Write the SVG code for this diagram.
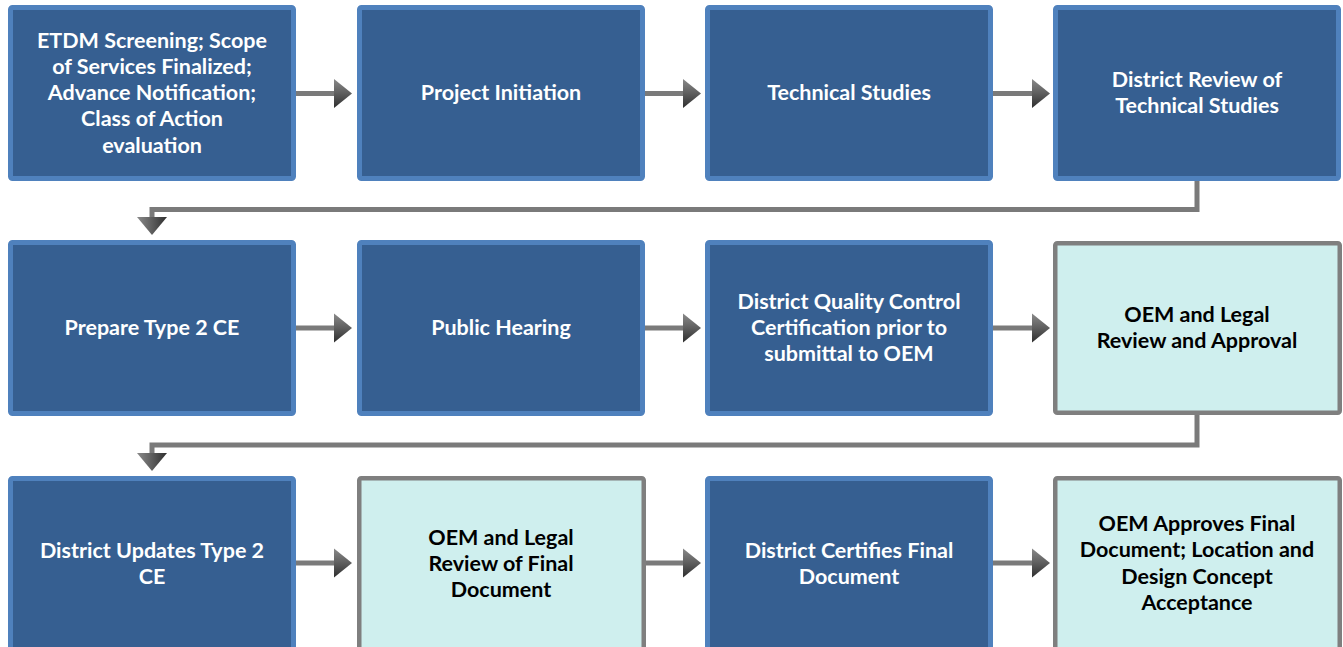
<svg xmlns="http://www.w3.org/2000/svg" width="1343" height="647" viewBox="0 0 1343 647">
<defs>
<linearGradient id="hg" x1="0" y1="0" x2="0" y2="1">
<stop offset="0" stop-color="#8a8a8a"/>
<stop offset="0.5" stop-color="#5e5e5e"/>
<stop offset="1" stop-color="#2e2e2e"/>
</linearGradient>
<linearGradient id="vg" x1="0" y1="0" x2="1" y2="0">
<stop offset="0" stop-color="#8a8a8a"/>
<stop offset="0.5" stop-color="#5e5e5e"/>
<stop offset="1" stop-color="#2e2e2e"/>
</linearGradient>
<style>
.b{fill:#365F91;stroke:#4F81BD;stroke-width:5}
.l{fill:#CFEFEE;stroke:#7F7F7F;stroke-width:4.5}
.tw{fill:#FFFFFF;font-family:Lato,"Open Sans",sans-serif;font-weight:bold;font-size:21.5px;text-anchor:middle}
.tk{fill:#000000;font-family:Lato,"Open Sans",sans-serif;font-weight:bold;font-size:21.5px;text-anchor:middle}
.sh{fill:none;stroke:#7A7A7A;stroke-width:5}
.ha{fill:url(#hg)}
.va{fill:url(#vg)}
</style>
</defs>
<g id="connectors">
<line class="sh" x1="296" y1="93.5" x2="336" y2="93.5"/>
<polygon class="ha" points="334,79 352,93.5 334,108"/>
<line class="sh" x1="644" y1="93.5" x2="685" y2="93.5"/>
<polygon class="ha" points="683,79 701,93.5 683,108"/>
<line class="sh" x1="993" y1="93.5" x2="1034" y2="93.5"/>
<polygon class="ha" points="1032,79 1050,93.5 1032,108"/>
<path class="sh" d="M1197,180 V209.5 H152 V219"/>
<polygon class="va" points="137,217 167,217 152,235"/>
<line class="sh" x1="296" y1="328" x2="336" y2="328"/>
<polygon class="ha" points="334,313.5 352,328 334,342.5"/>
<line class="sh" x1="644" y1="328" x2="685" y2="328"/>
<polygon class="ha" points="683,313.5 701,328 683,342.5"/>
<line class="sh" x1="993" y1="328" x2="1034" y2="328"/>
<polygon class="ha" points="1032,313.5 1050,328 1032,342.5"/>
<path class="sh" d="M1197,415 V445 H152 V455"/>
<polygon class="va" points="137,453 167,453 152,471"/>
<line class="sh" x1="296" y1="563" x2="336" y2="563"/>
<polygon class="ha" points="334,548.5 352,563 334,577.5"/>
<line class="sh" x1="644" y1="563" x2="685" y2="563"/>
<polygon class="ha" points="683,548.5 701,563 683,577.5"/>
<line class="sh" x1="993" y1="563" x2="1034" y2="563"/>
<polygon class="ha" points="1032,548.5 1050,563 1032,577.5"/>
</g>
<g id="n1">
<rect class="b" x="10.5" y="7.5" width="283" height="171" rx="2"/>
<text class="tw" x="152" y="48">ETDM Screening; Scope</text>
<text class="tw" x="152" y="74">of Services Finalized;</text>
<text class="tw" x="152" y="100">Advance Notification;</text>
<text class="tw" x="152" y="126">Class of Action</text>
<text class="tw" x="152" y="153">evaluation</text>
</g>
<g id="n2">
<rect class="b" x="359.5" y="7.5" width="283" height="171" rx="2"/>
<text class="tw" x="501" y="100">Project Initiation</text>
</g>
<g id="n3">
<rect class="b" x="707.5" y="7.5" width="283" height="171" rx="2"/>
<text class="tw" x="849" y="100">Technical Studies</text>
</g>
<g id="n4">
<rect class="b" x="1055.5" y="7.5" width="283" height="171" rx="2"/>
<text class="tw" x="1197" y="87">District Review of</text>
<text class="tw" x="1197" y="113">Technical Studies</text>
</g>
<g id="n5">
<rect class="b" x="10.5" y="242.5" width="283" height="171" rx="2"/>
<text class="tw" x="152" y="335">Prepare Type 2 CE</text>
</g>
<g id="n6">
<rect class="b" x="359.5" y="242.5" width="283" height="171" rx="2"/>
<text class="tw" x="501" y="335">Public Hearing</text>
</g>
<g id="n7">
<rect class="b" x="707.5" y="242.5" width="283" height="171" rx="2"/>
<text class="tw" x="849" y="309">District Quality Control</text>
<text class="tw" x="849" y="335">Certification prior to</text>
<text class="tw" x="849" y="361">submittal to OEM</text>
</g>
<g id="n8">
<rect class="l" x="1055.25" y="243.25" width="284.5" height="169.5" rx="2"/>
<text class="tk" x="1197" y="322">OEM and Legal</text>
<text class="tk" x="1197" y="348">Review and Approval</text>
</g>
<g id="n9">
<rect class="b" x="10.5" y="478.5" width="283" height="175" rx="2"/>
<text class="tw" x="152" y="558">District Updates Type 2</text>
<text class="tw" x="152" y="584">CE</text>
</g>
<g id="n10">
<rect class="l" x="359.25" y="478.25" width="284.5" height="175" rx="2"/>
<text class="tk" x="501" y="545">OEM and Legal</text>
<text class="tk" x="501" y="571">Review of Final</text>
<text class="tk" x="501" y="597">Document</text>
</g>
<g id="n11">
<rect class="b" x="707.5" y="478.5" width="283" height="175" rx="2"/>
<text class="tw" x="849" y="558">District Certifies Final</text>
<text class="tw" x="849" y="584">Document</text>
</g>
<g id="n12">
<rect class="l" x="1055.25" y="478.25" width="284.5" height="175" rx="2"/>
<text class="tk" x="1197" y="531">OEM Approves Final</text>
<text class="tk" x="1197" y="557">Document; Location and</text>
<text class="tk" x="1197" y="584">Design Concept</text>
<text class="tk" x="1197" y="610">Acceptance</text>
</g>
</svg>
